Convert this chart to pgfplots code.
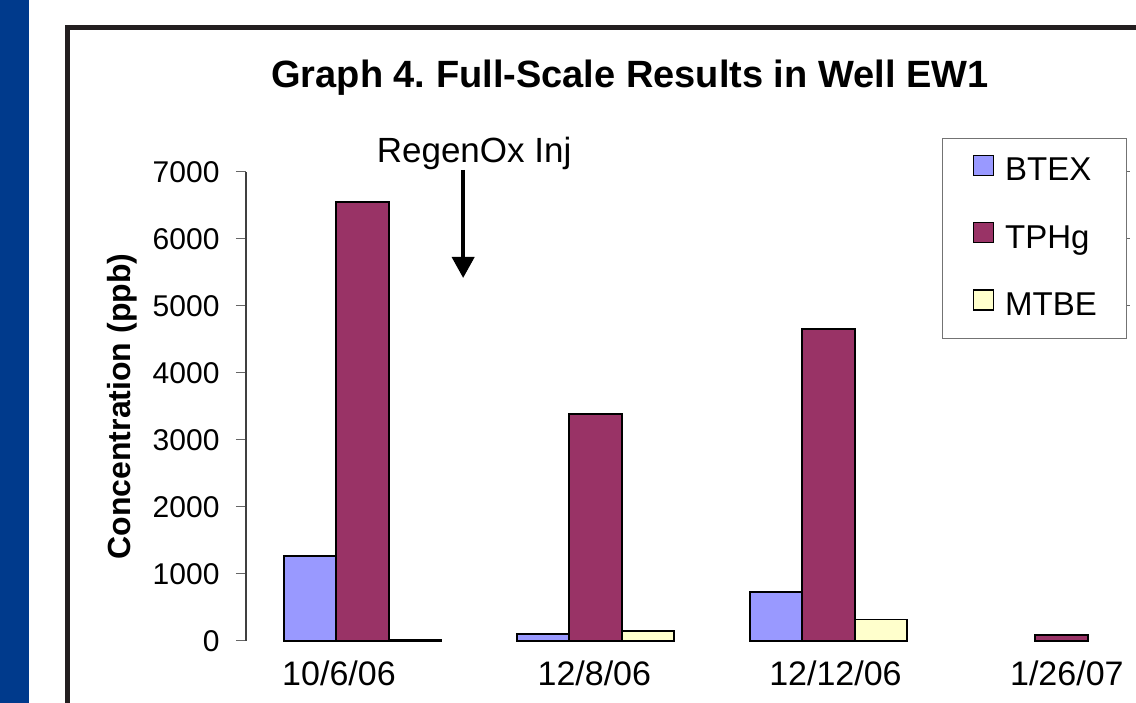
\documentclass[border=0pt]{standalone}
\usepackage{fontspec}
\setmainfont{Liberation Sans}
\usepackage{pgfplots}
\pgfplotsset{compat=1.18}
\usetikzlibrary{arrows.meta}
\definecolor{stripblue}{RGB}{0,58,140}
\definecolor{framecol}{RGB}{35,31,32}
\definecolor{btex}{RGB}{153,153,255}
\definecolor{tphg}{RGB}{153,51,102}
\definecolor{mtbe}{RGB}{255,255,204}
\frenchspacing
\begin{document}
\begin{tikzpicture}[x=1pt,y=1pt]
\useasboundingbox (0,0) rectangle (1136,703);
\fill[white] (0,0) rectangle (1136,703);
\fill[stripblue] (0,0) rectangle (29,703);
\draw[framecol, line width=5pt] (67.5,-10) -- (67.5,675.5) -- (1150,675.5);
\begin{axis}[
  at={(246pt,62pt)}, anchor=south west,
  scale only axis, width=932pt, height=469pt,
  xmin=-0.5, xmax=3.5, ymin=0, ymax=7000,
  ybar=0pt, bar width=52.5pt,
  axis lines=left,
  axis line style={-},
  x axis line style={draw=none},
  y axis line style={draw=black!75, line width=1.3pt},
  xtick={-0.101,0.995,2.030,3.023},
  xticklabels={10/6/06,12/8/06,12/12/06,1/26/07},
  xtick style={draw=none},
  xticklabel style={font=\fontsize{34}{40}\selectfont, yshift=-6pt},
  ytick={0,1000,2000,3000,4000,5000,6000,7000},
  yticklabels={0,1000,2000,3000,4000,5000,6000,7000},
  ytick style={draw=black!60, line width=1pt},
  tick align=outside, major tick length=10pt,
  yticklabel style={font=\fontsize{30}{36}\selectfont, xshift=-13pt},
  ylabel={Concentration (ppb)},
  every axis y label/.style={at={(axis description cs:-0.1234,0.5)}, rotate=90, anchor=base,
    font=\bfseries\fontsize{32}{38}\selectfont},
  title={Graph 4. Full-Scale Results in Well EW1},
  title style={font=\bfseries\fontsize{38}{44}\selectfont, at={(axis description cs:0.412,1.1684)}, anchor=base},
  legend style={at={(axis description cs:0.7468,1.0725)}, anchor=north west,
    draw=black!55, line width=1.2pt, inner xsep=30pt, inner ysep=16pt,
    row sep=34pt, column sep=11pt,
    nodes={inner sep=0pt, text height=24pt, text depth=7pt, font=\fontsize{33}{39}\selectfont}},
  legend cell align=left,
  clip=false,
]
\addplot[fill=btex, draw=black, line width=1.6pt,
  legend image code/.code={\draw[fill=btex,draw=black,line width=1.5pt] (0pt,-3pt) rectangle (20pt,17pt);}]
  coordinates {(0,1270) (1,100) (2,730)};
\addlegendentry{BTEX}
\addplot[fill=tphg, draw=black, line width=1.6pt,
  legend image code/.code={\draw[fill=tphg,draw=black,line width=1.5pt] (0pt,-3pt) rectangle (20pt,17pt);}]
  coordinates {(0,6550) (1,3390) (2,4660) (3,90)};
\addlegendentry{TPHg}
\addplot[fill=mtbe, draw=black, line width=1.6pt,
  legend image code/.code={\draw[fill=mtbe,draw=black,line width=1.5pt] (0pt,-3pt) rectangle (20pt,17pt);}]
  coordinates {(0,20) (1,150) (2,320)};
\addlegendentry{MTBE}
\node[font=\fontsize{35}{41}\selectfont, anchor=base] at (axis cs:0.479,7149) {RegenOx Inj};
\draw[line width=4pt, -{Triangle[width=22pt,length=21pt]}] (axis cs:0.432,7030) -- (axis cs:0.432,5418);
\draw[black!60, line width=1pt] (axis cs:3.272,7000) -- (axis cs:3.2936,7000);
\draw[black!60, line width=1pt] (axis cs:3.272,6000) -- (axis cs:3.2936,6000);
\draw[black!60, line width=1pt] (axis cs:3.272,5000) -- (axis cs:3.2936,5000);
\end{axis}
\end{tikzpicture}
\end{document}
